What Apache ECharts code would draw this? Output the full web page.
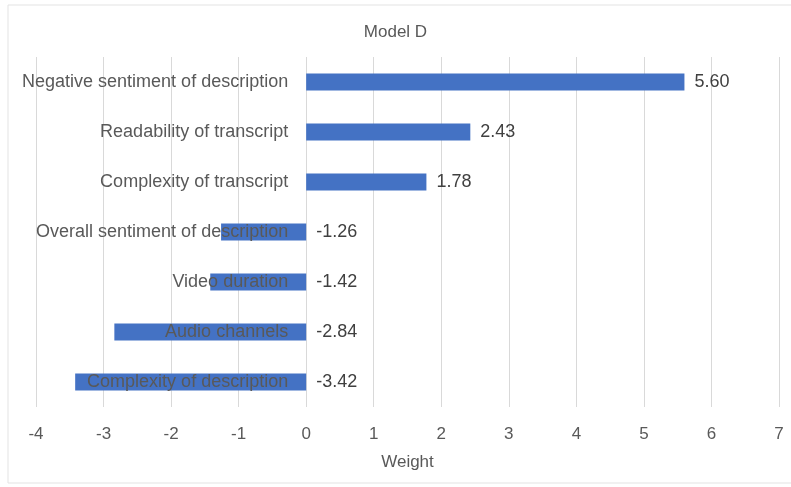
<!DOCTYPE html>
<html>
<head>
<meta charset="utf-8">
<style>
  html, body { margin: 0; padding: 0; background: #fff; }
  #chart { width: 791px; height: 487px; }
</style>
<script src="https://cdn.jsdelivr.net/npm/echarts@6/dist/echarts.min.js"></script>
</head>
<body>
<div id="chart"></div>
<script>
// Feature names, listed top to bottom
const features = [
  'Negative sentiment of description',
  'Readability of transcript',
  'Complexity of transcript',
  'Overall sentiment of description',
  'Video duration',
  'Audio channels',
  'Complexity of description'
];
// Model weights for each feature
const weights = [5.60, 2.43, 1.78, -1.26, -1.42, -2.84, -3.42];
// Weight axis range and step
const axisMin = -4;
const axisMax = 7;
const axisStep = 1;

const FONT = '"Liberation Sans", Arial, sans-serif';
const TEXT = '#595959';

const GRID_LEFT = 36;
const GRID_RIGHT = 12;
const WIDTH = 791;

const chart = echarts.init(document.getElementById('chart'));

// Pixel distance from the grid's left edge to the zero line, so the
// feature names sit just left of zero
const plotWidth = WIDTH - GRID_LEFT - GRID_RIGHT;
const zeroShift = (0 - axisMin) / (axisMax - axisMin) * plotWidth;

chart.setOption({
  backgroundColor: '#ffffff',
  animation: false,
  title: {
    text: 'Model D',
    left: 'center',
    top: 19,
    textStyle: { fontFamily: FONT, fontSize: 17, fontWeight: 'normal', color: TEXT }
  },
  graphic: [{
    type: 'rect',
    shape: { x: 8, y: 5, width: 800, height: 478 },
    style: { fill: 'none', stroke: '#e3e3e3', lineWidth: 1 },
    silent: true
  }],
  grid: {
    left: GRID_LEFT, right: GRID_RIGHT, top: 57, bottom: 80,
    containLabel: false,
    outerBoundsMode: 'none'
  },
  xAxis: {
    type: 'value',
    min: axisMin,
    max: axisMax,
    interval: axisStep,
    name: 'Weight',
    nameLocation: 'middle',
    nameGap: 47,
    nameTextStyle: { fontFamily: FONT, fontSize: 17, color: TEXT },
    axisLine: { show: false },
    axisTick: { show: false },
    axisLabel: { fontFamily: FONT, fontSize: 17, color: TEXT, margin: 19 },
    splitLine: { show: true, lineStyle: { color: '#d9d9d9', width: 1 } }
  },
  yAxis: {
    type: 'category',
    data: features,
    inverse: true,
    z: 10,
    offset: -zeroShift,
    axisLine: { show: false, onZero: false },
    axisTick: { show: false },
    axisLabel: { fontFamily: FONT, fontSize: 18, color: TEXT, margin: 18 },
    splitLine: { show: false }
  },
  series: [{
    type: 'bar',
    data: weights,
    barWidth: 17,
    itemStyle: { color: '#4472c4' },
    label: {
      show: true,
      position: 'right',
      distance: 10,
      fontFamily: FONT,
      fontSize: 18,
      color: '#404040',
      formatter: p => p.value.toFixed(2)
    }
  }]
});
</script>
</body>
</html>
